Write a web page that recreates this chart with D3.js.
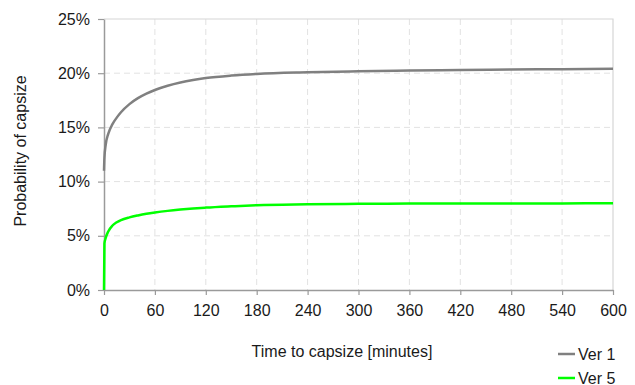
<!DOCTYPE html>
<html>
<head>
<meta charset="utf-8">
<script src="https://cdn.jsdelivr.net/npm/d3@7"></script>
<style>
  body { margin: 0; background: #fff; }
  svg text { font-family: "Liberation Sans", Arial, sans-serif; fill: #1a1a1a; }
</style>
</head>
<body>
<svg id="chart"></svg>
<script>
// x values (minutes) and probabilities
const times = [0, 0.5, 2, 5, 10, 15, 20, 30, 40, 50, 60, 75, 90, 105, 120, 150, 180, 240, 300, 360, 420, 480, 540, 600];
const ver1 = [0.110, 0.122, 0.134, 0.144, 0.153, 0.159, 0.1640, 0.1715, 0.1770, 0.1812, 0.1845, 0.1884, 0.1914, 0.1937, 0.1955, 0.1978, 0.1993, 0.2008, 0.2018, 0.2025, 0.2030, 0.2034, 0.2037, 0.2040];
const ver5 = [0.000, 0.043, 0.048, 0.054, 0.0595, 0.0625, 0.0645, 0.0670, 0.0688, 0.0703, 0.0715, 0.0730, 0.0742, 0.0752, 0.0760, 0.0772, 0.0782, 0.0790, 0.0795, 0.0797, 0.0798, 0.0799, 0.0799, 0.0800];
const xTicks = [0, 60, 120, 180, 240, 300, 360, 420, 480, 540, 600];
const yTicks = [0, 0.05, 0.10, 0.15, 0.20, 0.25];
const seriesNames = ['Ver 1', 'Ver 5'];
const seriesColors = ['#808080', '#00ff00'];

const width = 635, height = 385;
const margin = {top: 19, right: 22, bottom: 95, left: 104};
const innerW = width - margin.left - margin.right;
const innerH = height - margin.top - margin.bottom;

const svg = d3.select('#chart').attr('width', width).attr('height', height);
const chart = svg.append('g').attr('transform', `translate(${margin.left},${margin.top})`);

const x = d3.scaleLinear().domain([0, 600]).range([0, innerW]);
const y = d3.scaleLinear().domain([0, 0.25]).range([innerH, 0]);

// dashed grid
chart.append('g')
    .selectAll('line')
    .data(xTicks.slice(1, -1))
    .join('line')
    .attr('x1', d => x(d)).attr('x2', d => x(d))
    .attr('y1', 0).attr('y2', innerH)
    .attr('stroke', '#e2e2e2').attr('stroke-dasharray', '6,4');

chart.append('g')
    .selectAll('line')
    .data(yTicks.slice(1, -1))
    .join('line')
    .attr('x1', 0).attr('x2', innerW)
    .attr('y1', d => y(d)).attr('y2', d => y(d))
    .attr('stroke', '#e2e2e2').attr('stroke-dasharray', '6,4');

// top and right border
chart.append('path')
    .attr('d', `M0,${y(0.25)}H${x(600)}V${innerH}`)
    .attr('fill', 'none').attr('stroke', '#d6d6d6').attr('stroke-width', 1.2);

// axes
const xAxis = d3.axisBottom(x).tickValues(xTicks).tickSize(5).tickPadding(10).tickSizeOuter(0);
const yAxis = d3.axisLeft(y).tickValues(yTicks).tickSize(6).tickPadding(8).tickSizeOuter(0)
    .tickFormat(d3.format('.0%'));

const xAxisG = chart.append('g').attr('transform', `translate(0,${innerH})`).call(xAxis);
const yAxisG = chart.append('g').call(yAxis);

[xAxisG, yAxisG].forEach(g => {
  g.select('.domain').attr('stroke', '#9a9a9a').attr('stroke-width', 1.5);
  g.selectAll('.tick line').attr('stroke', '#9a9a9a').attr('stroke-width', 1.2);
  g.selectAll('.tick text').style('font-size', '16px').attr('fill', '#1a1a1a');
});

// lines, drawn over the axes
const line = d3.line().x((d, i) => x(times[i])).y(d => y(d)).curve(d3.curveMonotoneX);
[ver1, ver5].forEach((s, i) => {
  chart.append('path')
      .datum(s)
      .attr('d', line)
      .attr('fill', 'none')
      .attr('stroke', seriesColors[i])
      .attr('stroke-width', 2.5);
});

// axis titles
svg.append('text')
    .attr('x', 342).attr('y', 357)
    .attr('text-anchor', 'middle')
    .style('font-size', '16px')
    .text('Time to capsize [minutes]');

svg.append('text')
    .attr('transform', 'translate(26,151) rotate(-90)')
    .attr('text-anchor', 'middle')
    .style('font-size', '16px')
    .text('Probability of capsize');

// legend
const legend = svg.append('g').attr('transform', 'translate(558,354)');
seriesNames.forEach((name, i) => {
  const row = legend.append('g').attr('transform', `translate(0,${i * 24})`);
  row.append('line').attr('x1', 0).attr('x2', 17).attr('y1', 0).attr('y2', 0)
      .attr('stroke', seriesColors[i]).attr('stroke-width', 2.5);
  row.append('text').attr('x', 20).attr('y', 5.5).style('font-size', '16px').text(name);
});
</script>
</body>
</html>
